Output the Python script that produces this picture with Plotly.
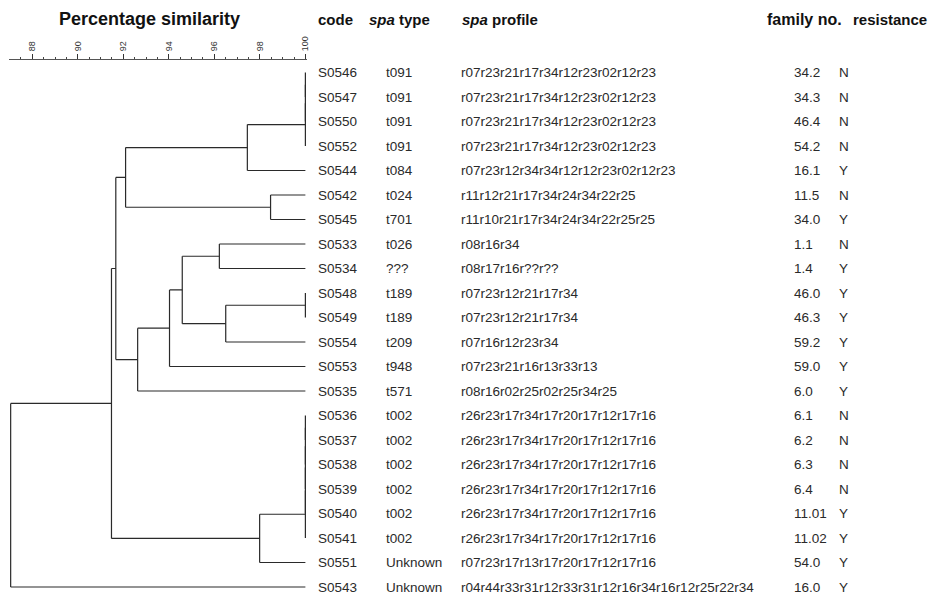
import plotly.graph_objects as go

# ---- data -------------------------------------------------------------
codes = ["S0546", "S0547", "S0550", "S0552", "S0544", "S0542", "S0545",
         "S0533", "S0534", "S0548", "S0549", "S0554", "S0553", "S0535",
         "S0536", "S0537", "S0538", "S0539", "S0540", "S0541", "S0551",
         "S0543"]
spa_types = ["t091", "t091", "t091", "t091", "t084", "t024", "t701",
             "t026", "???", "t189", "t189", "t209", "t948", "t571",
             "t002", "t002", "t002", "t002", "t002", "t002", "Unknown",
             "Unknown"]
spa_profiles = [
    "r07r23r21r17r34r12r23r02r12r23",
    "r07r23r21r17r34r12r23r02r12r23",
    "r07r23r21r17r34r12r23r02r12r23",
    "r07r23r21r17r34r12r23r02r12r23",
    "r07r23r12r34r34r12r12r23r02r12r23",
    "r11r12r21r17r34r24r34r22r25",
    "r11r10r21r17r34r24r34r22r25r25",
    "r08r16r34",
    "r08r17r16r??r??",
    "r07r23r12r21r17r34",
    "r07r23r12r21r17r34",
    "r07r16r12r23r34",
    "r07r23r21r16r13r33r13",
    "r08r16r02r25r02r25r34r25",
    "r26r23r17r34r17r20r17r12r17r16",
    "r26r23r17r34r17r20r17r12r17r16",
    "r26r23r17r34r17r20r17r12r17r16",
    "r26r23r17r34r17r20r17r12r17r16",
    "r26r23r17r34r17r20r17r12r17r16",
    "r26r23r17r34r17r20r17r12r17r16",
    "r07r23r17r13r17r20r17r12r17r16",
    "r04r44r33r31r12r33r31r12r16r34r16r12r25r22r34",
]
family_no = ["34.2", "34.3", "46.4", "54.2", "16.1", "11.5", "34.0", "1.1",
             "1.4", "46.0", "46.3", "59.2", "59.0", "6.0", "6.1", "6.2",
             "6.3", "6.4", "11.01", "11.02", "54.0", "16.0"]
resistance = ["N", "N", "N", "N", "Y", "N", "Y", "N", "Y", "Y", "Y", "Y",
              "Y", "Y", "N", "N", "N", "N", "Y", "Y", "Y", "Y"]

# clustering: (child a, child b, percentage similarity); internal nodes n0, n1, ...
merges = [
    ("S0546", "S0547", 100.0),   # n0
    ("n0", "S0550", 100.0),      # n1
    ("n1", "S0552", 100.0),      # n2
    ("n2", "S0544", 97.45),      # n3
    ("S0542", "S0545", 98.47),   # n4
    ("n3", "n4", 92.10),         # n5
    ("S0533", "S0534", 96.22),   # n6
    ("S0548", "S0549", 100.0),   # n7
    ("n7", "S0554", 96.50),      # n8
    ("n6", "n8", 94.59),         # n9
    ("n9", "S0553", 94.03),      # n10
    ("n10", "S0535", 92.63),     # n11
    ("n5", "n11", 91.67),        # n12
    ("S0536", "S0537", 100.0),   # n13
    ("n13", "S0538", 100.0),     # n14
    ("n14", "S0539", 100.0),     # n15
    ("n15", "S0540", 100.0),     # n16
    ("n16", "S0541", 100.0),     # n17
    ("n17", "S0551", 97.99),     # n18
    ("n12", "n18", 91.48),       # n19
    ("n19", "S0543", 87.05),     # n20
]

axis_ticks = [88, 90, 92, 94, 96, 98, 100]

# ---- dendrogram geometry ---------------------------------------------
pos = {c: (100.0, i) for i, c in enumerate(codes)}
xs, ys = [], []
for k, (a, b, s) in enumerate(merges):
    xa, ya = pos[a]
    xb, yb = pos[b]
    xs += [xa, s, None, xb, s, None, s, s, None]
    ys += [ya, ya, None, yb, yb, None, ya, yb, None]
    pos[f"n{k}"] = (s, (ya + yb) / 2)

W, H = 935, 596
x_left_px, x_right_px = 10.7, 306.7      # 87.05 .. 100
px_per_unit = (x_right_px - x_left_px) / (100 - 87.05)
pad = 0.06
row0_px, row_pitch = 72.5, 24.5

fig = go.Figure()
fig.add_trace(go.Scatter(x=xs, y=ys, mode="lines",
                         line=dict(color="#2a2a2a", width=1.2),
                         hoverinfo="skip", showlegend=False))

# ---- table text -------------------------------------------------------
txt_font = dict(family="Liberation Sans, Arial, sans-serif", size=13.5, color="#2a2a2a")
col_x = [(317, codes), (386, spa_types), (461, spa_profiles),
         (795, family_no), (841, resistance)]
annotations = []
for xpx, values in col_x:
    for i, v in enumerate(values):
        annotations.append(dict(x=xpx / W, xref="paper", y=i, yref="y",
                                text=v, showarrow=False, xanchor="left",
                                yanchor="middle", font=txt_font))

hdr_family = "Liberation Sans, Arial, sans-serif"
headers = [(150, "center", "<b>Percentage similarity</b>", 18),
           (317, "left", "<b>code</b>", 15),
           (369, "left", "<b><i>spa</i> type</b>", 15),
           (462, "left", "<b><i>spa</i> profile</b>", 15),
           (768, "left", "<b>family no.</b>", 16),
           (855, "left", "<b>resistance</b>", 15)]
for xpx, anc, t, sz in headers:
    annotations.append(dict(x=xpx / W, xref="paper", y=1 - 19 / H, yref="paper",
                            text=t, showarrow=False, xanchor=anc,
                            yanchor="middle",
                            font=dict(family=hdr_family, size=sz, color="#111")))

top_row = -row0_px / row_pitch
bottom_row = (H - row0_px) / row_pitch

fig.update_layout(
    width=W, height=H,
    margin=dict(l=0, r=0, t=0, b=0),
    paper_bgcolor="white", plot_bgcolor="white",
    annotations=annotations,
    xaxis=dict(
        domain=[(x_left_px - pad * px_per_unit) / W,
                (x_right_px + pad * px_per_unit) / W],
        range=[87.05 - pad, 100 + pad],
        side="top", anchor="free", position=1 - 59 / H,
        showgrid=False, zeroline=False,
        showline=True, linecolor="#555", linewidth=1,
        tickmode="array", tickvals=axis_ticks,
        ticktext=[str(t) for t in axis_ticks],
        ticks="outside", ticklen=5, tickcolor="#333", tickwidth=1,
        tickangle=-90, ticklabelstandoff=1,
        tickfont=dict(family="Liberation Sans, Arial, sans-serif", size=9, color="#333"),
        minor=dict(tickmode="array",
                   tickvals=[v / 2 for v in range(175, 201)],
                   ticks="outside", ticklen=2, tickcolor="#444", showgrid=False),
    ),
    yaxis=dict(domain=[0, 1], range=[bottom_row, top_row], visible=False,
               showgrid=False, zeroline=False),
)

fig.write_html("out.html")
